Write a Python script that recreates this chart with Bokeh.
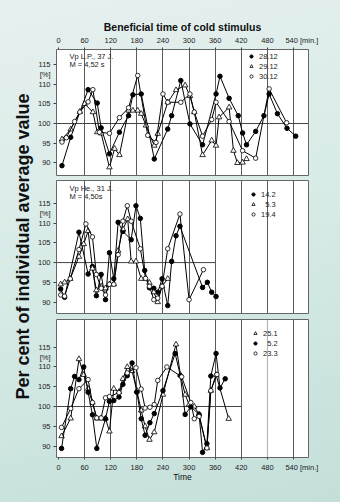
from math import pi
from bokeh.plotting import figure
from bokeh.layouts import row, column
from bokeh.models import Range1d, FixedTicker, Label, Legend, LegendItem, Span
from bokeh.embed import file_html
from bokeh.resources import INLINE

FONT = "Liberation Sans"

# ---------------- data ----------------
X_TICKS = [0, 60, 120, 180, 240, 300, 360, 420, 480, 540]
Y_TICKS = [90, 95, 100, 105, 110, 115]
UNIT_TICK = 112.5          # where the "[%]" unit sits on each y axis
REF_LEVEL = 100

# Panel 1: Vp L.P., 37 J.
P1_F_T = [8, 28, 68, 89, 98, 117, 140, 161, 171, 190, 220, 251, 260, 281, 302, 331, 362, 371, 392, 413, 423, 432, 453, 472, 484, 503, 525, 545]
P1_F_Y = [89.3, 96.5, 108.6, 105.2, 98.9, 92.3, 97.8, 102.0, 107.3, 107.5, 91.0, 98.6, 102.0, 110.9, 99.9, 94.6, 107.5, 112.0, 106.4, 102.0, 97.6, 94.6, 98.0, 102.0, 107.5, 102.5, 98.8, 96.8]
P1_T_T = [8, 28, 49, 60, 79, 89, 98, 117, 129, 140, 161, 171, 182, 190, 201, 220, 228, 251, 270, 291, 302, 312, 331, 352, 362, 369, 392, 402, 411, 423, 432]
P1_T_Y = [96.0, 98.5, 103.0, 105.0, 102.9, 97.8, 97.5, 88.9, 93.6, 92.0, 103.3, 103.3, 103.3, 102.5, 99.5, 94.4, 97.4, 105.4, 108.5, 109.7, 107.0, 102.9, 92.0, 95.7, 94.4, 101.6, 104.1, 93.1, 90.0, 90.1, 91.0]
P1_O_T = [8, 18, 37, 49, 68, 79, 94, 117, 140, 161, 182, 205, 224, 240, 251, 281, 302, 312, 331, 352, 362, 392, 423, 453, 484, 524]
P1_O_Y = [95.3, 96.4, 100.5, 102.9, 105.5, 108.6, 97.8, 97.5, 101.5, 104.0, 112.2, 97.0, 95.2, 107.5, 105.4, 105.4, 107.5, 102.9, 96.8, 101.0, 105.4, 100.5, 93.1, 91.2, 108.8, 100.2]

# Panel 2: Vp He., 31 J.
P2_F_T = [5, 14, 47, 68, 78, 87, 98, 108, 117, 127, 137, 148, 167, 178, 188, 198, 209, 219, 228, 238, 251, 260, 270, 279, 331, 342, 352, 362]
P2_F_Y = [93.3, 91.2, 107.7, 97.1, 99.0, 91.6, 97.0, 90.6, 102.5, 95.9, 110.2, 107.9, 105.8, 114.4, 111.2, 98.0, 93.6, 93.5, 92.5, 95.9, 89.1, 100.3, 106.8, 109.2, 93.7, 95.0, 92.5, 91.4]
P2_T_T = [5, 14, 27, 47, 58, 68, 78, 87, 98, 108, 117, 127, 137, 148, 159, 167, 178, 190, 200, 209, 219, 228, 238, 251]
P2_T_Y = [94.5, 95.0, 95.9, 101.5, 104.7, 108.0, 98.5, 93.0, 94.0, 93.5, 94.5, 94.5, 103.0, 108.5, 111.0, 100.3, 100.3, 95.9, 95.9, 94.9, 92.5, 90.0, 94.0, 95.9]
P2_O_T = [5, 14, 27, 47, 63, 78, 87, 98, 108, 117, 127, 137, 148, 158, 167, 188, 200, 209, 219, 228, 238, 251, 279, 300, 333]
P2_O_Y = [91.8, 91.5, 95.9, 103.3, 109.8, 106.5, 97.0, 93.5, 91.8, 94.5, 94.5, 102.0, 110.5, 114.4, 110.5, 103.5, 96.0, 94.0, 90.6, 91.0, 94.0, 103.5, 112.3, 90.6, 98.2]

# Panel 3
P3_T_T = [7, 28, 47, 58, 68, 78, 88, 98, 108, 117, 127, 139, 148, 158, 169, 180, 190, 199, 209, 220, 240, 270, 280, 291, 300, 312, 323, 341, 350, 362, 391]
P3_T_Y = [92.5, 97.0, 112.0, 108.0, 104.5, 101.0, 97.0, 97.0, 97.0, 93.7, 104.5, 103.7, 107.0, 110.0, 109.0, 104.0, 99.0, 95.0, 91.6, 93.5, 103.0, 115.7, 108.0, 103.0, 100.5, 100.0, 98.0, 89.5, 104.0, 108.0, 96.9]
P3_F_T = [7, 28, 37, 47, 58, 68, 78, 88, 108, 117, 127, 139, 148, 158, 169, 180, 190, 199, 210, 220, 240, 268, 280, 291, 304, 323, 331, 341, 350, 362, 371, 383]
P3_F_Y = [89.4, 104.5, 107.6, 106.8, 110.0, 103.6, 97.9, 89.4, 96.9, 101.3, 101.5, 102.4, 105.6, 107.8, 111.0, 103.6, 96.9, 92.7, 95.9, 98.2, 104.0, 113.4, 107.8, 98.0, 99.9, 98.0, 88.4, 90.6, 107.7, 113.4, 104.7, 107.0]
P3_O_T = [7, 28, 47, 68, 78, 88, 98, 108, 117, 139, 158, 178, 190, 199, 210, 220, 228, 249, 283, 304, 312, 323, 341, 350, 364]
P3_O_Y = [94.7, 99.5, 104.5, 106.8, 101.0, 97.1, 97.1, 102.2, 102.5, 103.5, 108.5, 109.8, 104.4, 99.6, 99.8, 100.5, 106.6, 110.0, 107.5, 101.0, 96.9, 97.5, 89.5, 104.0, 108.1]

P1_SERIES = [("28.12", "filled", P1_F_T, P1_F_Y), ("29.12", "triangle", P1_T_T, P1_T_Y), ("30.12", "open", P1_O_T, P1_O_Y)]
P2_SERIES = [("14.2", "filled", P2_F_T, P2_F_Y), ("\u20075.3", "triangle", P2_T_T, P2_T_Y), ("19.4", "open", P2_O_T, P2_O_Y)]
P3_SERIES = [("25.1", "triangle", P3_T_T, P3_T_Y), ("\u20075.2", "filled", P3_F_T, P3_F_Y), ("23.3", "open", P3_O_T, P3_O_Y)]

P1_TEXT = ["Vp  L.P., 37 J.", "M = 4,52 s"]
P2_TEXT = ["Vp  He., 31 J.", "M = 4,50s"]

X_START, X_END = -4.6, 574.4
LEFT_W = 34
PANEL_W = 340 - LEFT_W
GRID = "#5a5a5a"
TXT = "#222"


def style_x_axis(ax, label):
    ax.ticker = FixedTicker(ticks=X_TICKS)
    ax.major_label_overrides = {540: "\u2007\u2007\u2007\u2007540 [min.]"}
    ax.major_label_text_font = FONT
    ax.major_label_text_font_size = "7.5px"
    ax.major_label_text_color = TXT
    ax.major_tick_out = 2
    ax.major_tick_in = 0
    ax.minor_tick_line_color = None
    ax.axis_line_color = None
    ax.major_tick_line_color = "#444"
    ax.major_label_standoff = 3
    ax.axis_label = label
    ax.axis_label_text_font = FONT
    ax.axis_label_text_color = "#111"


def make_panel(series, yr, height, btop, bbot, xloc, ref_end, dotted, texts, text_y, legend_xy):
    p = figure(width=PANEL_W, height=height, output_backend="svg", toolbar_location=None,
               x_range=Range1d(X_START, X_END), y_range=Range1d(*yr),
               x_axis_location=xloc, y_axis_location="left",
               min_border_left=55 - LEFT_W, min_border_right=32, min_border_top=btop, min_border_bottom=bbot)
    p.border_fill_color = None
    p.background_fill_color = "white"
    p.outline_line_color = "#666"
    p.outline_line_width = 1

    gticks = [t for t in X_TICKS if t > 0 and t not in dotted]
    p.xgrid.ticker = FixedTicker(ticks=gticks)
    p.xgrid.grid_line_color = GRID
    p.xgrid.grid_line_width = 1
    p.ygrid.grid_line_color = None
    for d in dotted:
        p.add_layout(Span(location=d, dimension="height", line_color=GRID, line_dash="1 1", line_width=1))

    # labels (incl. the "[%]" unit) as major ticks without marks, tick marks as minor ticks
    yax = p.yaxis[0]
    yax.ticker = FixedTicker(ticks=Y_TICKS + [UNIT_TICK], minor_ticks=Y_TICKS)
    yax.major_label_overrides = {UNIT_TICK: "[%]"}
    yax.major_label_text_font = FONT
    yax.major_label_text_font_size = "7.5px"
    yax.major_label_text_color = TXT
    yax.major_tick_out = 3
    yax.major_tick_in = 0
    yax.major_tick_line_color = None
    yax.minor_tick_out = 3
    yax.minor_tick_in = 0
    yax.minor_tick_line_color = "#444"
    yax.axis_line_color = None
    yax.major_label_standoff = 3

    p.segment(x0=[X_START], y0=[REF_LEVEL], x1=[ref_end], y1=[REF_LEVEL], line_color="#444", line_width=1)

    items = []
    for label, kind, t, y in series:
        p.line(t, y, line_color="black", line_width=1)
        if kind == "filled":
            r = p.scatter(t, y, marker="circle", size=4.5, fill_color="black", line_color="black")
        elif kind == "open":
            r = p.scatter(t, y, marker="circle", size=4.5, fill_color="white", line_color="black", line_width=0.8)
        else:
            r = p.scatter(t, y, marker="triangle", size=5.5, fill_color="white", line_color="black", line_width=0.8)
        items.append(LegendItem(label=label, renderers=[r]))

    leg = Legend(items=items, location=legend_xy, border_line_color=None, background_fill_alpha=0,
                 padding=0, margin=0, spacing=0, glyph_width=8, glyph_height=10, label_height=10,
                 label_standoff=4, label_text_font=FONT, label_text_font_size="7.5px",
                 label_text_color=TXT)
    p.add_layout(leg)

    for txt, ty in zip(texts, text_y):
        p.add_layout(Label(x=25, y=ty, text=txt, text_baseline="middle", text_font=FONT,
                           text_font_size="7.5px", text_color=TXT))
    return p


p1 = make_panel(P1_SERIES, (86.8, 118.8), 177, 49, 2, "above", X_END, [], P1_TEXT, [117.1, 115.0], (191, 94))
style_x_axis(p1.xaxis[0], "Beneficial time of cold stimulus")
p1.xaxis[0].axis_label_text_font_style = "bold"
p1.xaxis[0].axis_label_text_font_size = "10.5px"
p1.xaxis[0].axis_label_standoff = 0

p2 = make_panel(P2_SERIES, (87.1, 120.8), 139, 3, 3, None, 360, [], P2_TEXT, [118.7, 116.7], (193, 94))

p3 = make_panel(P3_SERIES, (87.1, 122.0), 186, 3, 45, "below", 420, [480], [], [], (195, 99))
style_x_axis(p3.xaxis[0], "Time")
p3.xaxis[0].axis_label_text_font_style = "normal"
p3.xaxis[0].axis_label_text_font_size = "8.5px"
p3.xaxis[0].axis_label_standoff = -3

left = figure(width=LEFT_W, height=502, output_backend="svg", toolbar_location=None,
              x_range=Range1d(0, LEFT_W), y_range=Range1d(0, 502),
              x_axis_location=None, y_axis_location=None, min_border=0)
left.border_fill_color = None
left.background_fill_color = None
left.outline_line_color = None
left.grid.grid_line_color = None
left.add_layout(Label(x=22, y=256, text="Per cent of individual average value", angle=pi / 2,
                      text_align="center", text_baseline="middle", text_font=FONT,
                      text_font_style="bold", text_font_size="18px", text_color="#111"))

layout = row(left, column(p1, p2, p3, spacing=0), spacing=0)
layout.styles = {"background": "linear-gradient(165deg, #e6f0ef 0%, #d8ebe7 45%, #c4dfda 100%)"}

open("out.html", "w").write(file_html(layout, INLINE))
